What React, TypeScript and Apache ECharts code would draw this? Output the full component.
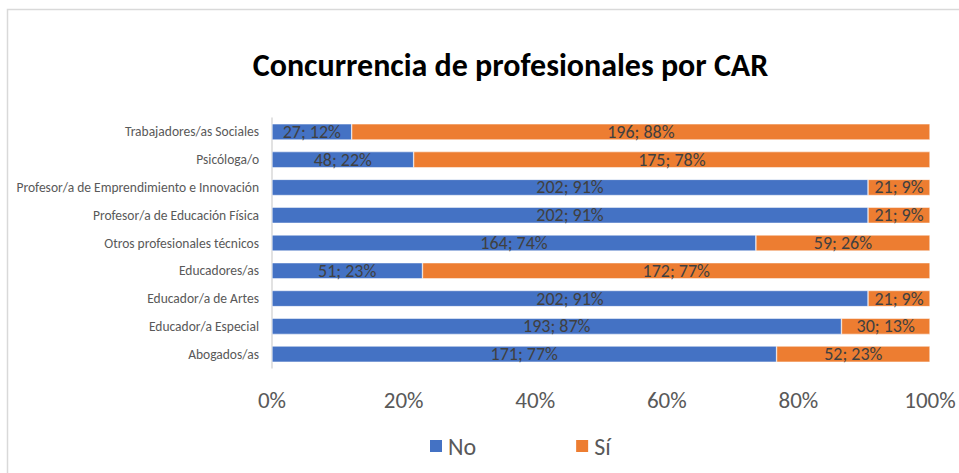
import React, { useEffect, useRef } from "react";
import * as echarts from "echarts";

const categories = [
  "Trabajadores/as Sociales",
  "Psicóloga/o",
  "Profesor/a de Emprendimiento e Innovación",
  "Profesor/a de Educación Física",
  "Otros profesionales técnicos",
  "Educadores/as",
  "Educador/a de Artes",
  "Educador/a Especial",
  "Abogados/as",
];
const noValues = [27, 48, 202, 202, 164, 51, 202, 193, 171];
const siValues = [196, 175, 21, 21, 59, 172, 21, 30, 52];
const xTicks = [0, 20, 40, 60, 80, 100];

const FONT = "Carlito, Lato, 'Open Sans', sans-serif";

export default function App() {
  const ref = useRef<HTMLDivElement>(null);
  useEffect(() => {
    document.body.style.margin = "0";
    if (!ref.current) return;
    const chart = echarts.init(ref.current, undefined, { renderer: "svg" });
    const totals = noValues.map((v, i) => v + siValues[i]);
    const mk = (vals: number[]) =>
      vals.map((v, i) => ({
        value: (v / totals[i]) * 100,
        raw: v,
        pct: Math.round((v / totals[i]) * 100),
      }));
    const labelCfg = {
      show: true,
      position: "inside",
      color: "#404040",
      fontSize: 18,
      fontFamily: FONT,
      formatter: (p: any) => `${p.data.raw}; ${p.data.pct}%`,
    };
    chart.setOption({
      animation: false,
      textStyle: { fontFamily: FONT },
      graphic: [
        {
          type: "rect",
          shape: { x: 7.5, y: 9.5, width: 960, height: 470 },
          style: { fill: "none", stroke: "#d9d9d9", lineWidth: 1.5 },
          silent: true,
        },
        {
          type: "text",
          x: 510.5,
          y: 65,
          style: {
            text: "Concurrencia de profesionales por CAR",
            fontSize: 32,
            fontWeight: "bold",
            fontFamily: FONT,
            fill: "#000000",
            textAlign: "center",
            textVerticalAlign: "middle",
          },
        },
      ],
      legend: {
        data: ["No", "Sí"],
        left: 428,
        top: 434,
        padding: 0,
        itemWidth: 14,
        itemHeight: 14,
        itemGap: 98,
        icon: "rect",
        textStyle: { fontSize: 24, color: "#595959", fontFamily: FONT },
      },
      grid: { left: 272, right: 29, top: 118, bottom: 105, containLabel: false },
      xAxis: {
        type: "value",
        min: 0,
        max: 100,
        interval: 20,
        axisLine: { show: false },
        axisTick: { show: false },
        splitLine: { show: false },
        axisLabel: {
          fontSize: 23,
          color: "#595959",
          fontFamily: FONT,
          margin: 20,
          formatter: (v: number) => (xTicks.includes(v) ? `${v}%` : ""),
        },
      },
      yAxis: {
        type: "category",
        data: categories,
        inverse: true,
        axisLine: { show: true, lineStyle: { color: "#d9d9d9", width: 1.5 } },
        axisTick: { show: false },
        axisLabel: { fontSize: 13.5, color: "#595959", fontFamily: FONT, margin: 13 },
      },
      series: [
        {
          name: "No",
          type: "bar",
          stack: "t",
          barCategoryGap: "42%",
          data: mk(noValues),
          itemStyle: { color: "#4472C4", borderColor: "#ffffff", borderWidth: 0.5 },
          label: labelCfg,
        },
        {
          name: "Sí",
          type: "bar",
          stack: "t",
          barCategoryGap: "42%",
          data: mk(siValues),
          itemStyle: { color: "#ED7D31", borderColor: "#ffffff", borderWidth: 0.5 },
          label: labelCfg,
        },
      ],
    });
    return () => chart.dispose();
  }, []);
  return <div ref={ref} style={{ width: 959, height: 473 }} />;
}
